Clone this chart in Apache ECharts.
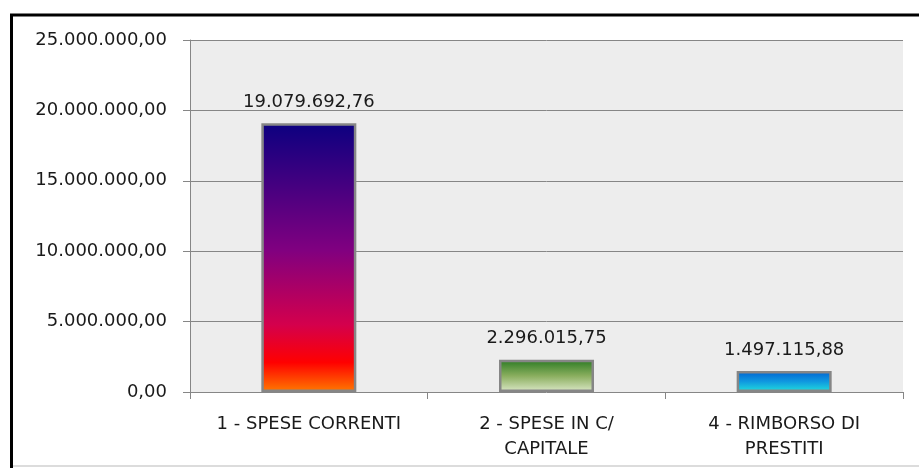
<!DOCTYPE html>
<html>
<head>
<meta charset="utf-8">
<script src="https://cdn.jsdelivr.net/npm/echarts@6/dist/echarts.min.js"></script>
<style>
  html, body { margin: 0; padding: 0; background: #fff; }
  #chart { width: 919px; height: 468px; }
</style>
</head>
<body>
<div id="chart"></div>
<script>
var categories = ['1 - SPESE CORRENTI', '2 - SPESE IN C/\nCAPITALE', '4 - RIMBORSO DI\nPRESTITI'];
var values = [19079692.76, 2296015.75, 1497115.88];
var yMin = 0, yMax = 25000000, yStep = 5000000;

// gradient for each bar, top -> bottom
var barColors = [
    [[0, '#0c0080'], [0.47, '#800080'], [0.75, '#d4004c'], [0.89, '#ff0000'], [1, '#ff7a00']],
    [[0, '#2a7a22'], [0.5, '#8aae5e'], [1, '#dce8c8']],
    [[0, '#0062d0'], [0.5, '#1098e0'], [1, '#22e0dc']]
];

function fmt(v) {
    var parts = v.toFixed(2).split('.');
    return parts[0].replace(/\B(?=(\d{3})+(?!\d))/g, '.') + ',' + parts[1];
}

var font = 'DejaVu Sans';
var chart = echarts.init(document.getElementById('chart'));

var data = [];
for (var i = 0; i < values.length; i++) {
    var stops = [];
    for (var j = 0; j < barColors[i].length; j++) {
        stops.push({offset: barColors[i][j][0], color: barColors[i][j][1]});
    }
    data.push({
        value: values[i],
        itemStyle: {color: new echarts.graphic.LinearGradient(0, 0, 0, 1, stops)}
    });
}

var option = {
    backgroundColor: '#fff',
    animation: false,
    grid: {
        left: 190, right: 16, top: 40, bottom: 76,
        show: true, backgroundColor: '#ededed', borderWidth: 0
    },
    xAxis: {
        type: 'category',
        data: categories,
        axisLine: {show: false},
        axisTick: {show: true, length: 7, lineStyle: {color: '#868686'}},
        axisLabel: {
            color: '#1a1a1a', fontFamily: font, fontSize: 18,
            lineHeight: 25, margin: 20, interval: 0
        }
    },
    yAxis: {
        type: 'value',
        min: yMin, max: yMax, interval: yStep,
        axisLine: {show: true, lineStyle: {color: '#868686'}},
        axisTick: {show: true, length: 7, lineStyle: {color: '#868686'}},
        splitLine: {show: true, lineStyle: {color: '#868686', width: 1}},
        axisLabel: {
            color: '#1a1a1a', fontFamily: font, fontSize: 18, margin: 23,
            formatter: function (v) { return fmt(v); }
        }
    },
    series: [{
        type: 'bar',
        data: data,
        barWidth: 95,
        itemStyle: {borderColor: '#868686', borderWidth: 2.5},
        label: {
            show: true, position: 'top', distance: 12,
            color: '#1a1a1a', fontFamily: font, fontSize: 18,
            formatter: function (p) { return fmt(p.value); }
        }
    }],
    graphic: [
        {
            type: 'polyline',
            shape: {points: [[11.5, 468], [11.5, 15], [919, 15]]},
            style: {stroke: '#000', lineWidth: 3, fill: null}
        },
        {
            type: 'line',
            shape: {x1: 13, y1: 466, x2: 919, y2: 466},
            style: {stroke: '#dcdcdc', lineWidth: 2}
        }
    ]
};

chart.setOption(option);
</script>
</body>
</html>
